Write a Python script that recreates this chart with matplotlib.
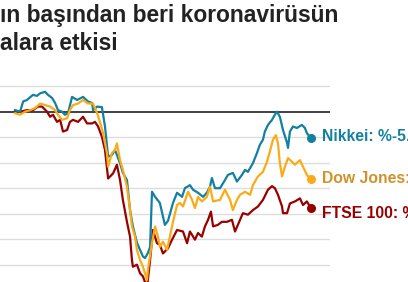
import matplotlib
matplotlib.use("Agg")
import matplotlib.pyplot as plt

plt.rcParams['font.family'] = ['Liberation Sans', 'DejaVu Sans']

# trading day index since the start of the year, % change since then
nikkei_day = [0, 2.1, 3.4, 5.0, 7.5, 9.2, 10.5, 12.6, 13.8, 15.5, 16.8, 18.0, 19.7, 20.9,
              22.2, 23.9, 26.0, 28.5, 30.6, 32.3, 32.7, 34.4, 36.4, 37.7, 39.0, 40.6,
              41.9, 44.0, 45.2, 46.9, 48.2, 49.4, 51.1, 52.4, 53.6, 54.5, 55.7, 56.6,
              57.4, 58.7, 60.7, 62.8, 64.1, 66.2, 67.9, 70.0, 71.2, 73.3, 74.6, 76.7,
              78.8, 80.4, 81.7, 82.5, 83.8, 85.9, 88.0, 89.2, 91.3, 93.0, 95.1, 96.4,
              97.6, 99.7, 101.4, 102.6, 103.9, 104.7, 106.0, 107.7, 108.9, 109.8, 111.0,
              112.3, 114.0, 114.4, 115.2, 116.5, 118.1, 120.2, 121.5, 122.3, 124.0]
nikkei_pct = [0.3, 0.0, 2.0, 2.3, 3.3, 3.1, 3.6, 3.9, 3.3, 2.7, 1.7, 0.3, 0.0, -0.6,
              -0.3, 2.9, 2.3, 2.9, 2.0, 1.7, 0.3, 1.0, 0.9, -2.9, -8.8, -8.5,
              -7.5, -10.1, -12.0, -13.4, -19.3, -22.5, -25.7, -27.1, -28.4, -28.7, -27.7, -26.5,
              -15.7, -16.7, -17.9, -22.2, -21.4, -17.9, -15.9, -16.7, -15.0, -14.4, -15.3, -15.9,
              -16.7, -15.9, -14.7, -13.0, -15.0, -15.0, -13.4, -12.4, -12.0, -13.7, -12.4, -11.4,
              -11.8, -10.1, -8.1, -6.5, -5.5, -3.9, -2.6, -1.6, -0.6, 0.0, -1.0,
              -3.6, -6.1, -7.1, -3.9, -2.9, -3.2, -2.6, -3.2, -4.2, -5.2]

dow_day = [0, 2.1, 4.2, 6.3, 8.4, 10.5, 12.6, 14.7, 16.8, 18.0, 19.7, 21.8, 23.0, 24.3,
           26.4, 28.5, 30.6, 32.7, 34.4, 35.6, 36.9, 38.5, 39.0, 40.6, 41.9, 42.7,
           44.0, 45.2, 46.9, 48.2, 49.0, 50.3, 51.1, 52.4, 53.6, 55.3, 55.7, 57.4,
           58.7, 59.9, 60.7, 62.0, 63.7, 64.9, 66.2, 67.9, 69.1, 70.4, 72.5, 74.2,
           75.4, 76.7, 78.3, 80.4, 81.7, 83.0, 85.9, 88.0, 90.1, 91.3, 93.0, 94.3,
           96.4, 98.5, 99.7, 101.8, 103.9, 105.6, 106.8, 108.1, 109.3, 110.2, 111.0,
           111.9, 113.1, 114.4, 116.0, 117.3, 119.4, 120.7, 122.3, 124.0]
dow_pct = [-0.3, -0.6, 0.0, 0.3, 0.7, 1.6, 1.3, 1.0, 0.3, -0.6, -1.6, -1.3, 0.3, 1.3,
           1.6, 2.3, 1.6, 1.6, -0.3, -2.0, -4.2, -8.1, -10.8, -8.1, -7.5, -6.2,
           -9.5, -11.4, -14.7, -19.3, -22.5, -24.5, -27.1, -29.1, -30.4, -33.0, -31.0, -25.7,
           -22.5, -24.5, -26.5, -25.5, -27.1, -24.5, -21.6, -18.3, -17.9, -18.6, -15.7, -17.3,
           -18.9, -16.7, -17.6, -16.7, -14.7, -17.6, -17.3, -15.3, -17.3, -19.3, -17.3, -16.3,
           -15.7, -16.3, -14.4, -12.7, -11.8, -9.8, -7.8, -5.5, -4.6, -6.2, -10.1,
           -12.7, -10.8, -9.1, -9.8, -10.4, -9.5, -10.8, -12.4, -13.2]

ftse_day = [0, 2.1, 5.0, 7.5, 9.6, 11.3, 13.4, 14.7, 15.9, 17.6, 18.9, 20.1, 21.8, 23.0,
            24.3, 26.4, 28.5, 30.2, 32.3, 33.5, 34.8, 36.4, 37.7, 39.0, 41.1, 42.7,
            44.0, 45.2, 46.9, 48.2, 49.0, 49.4, 51.1, 52.4, 53.6, 55.3, 56.6, 57.8,
            59.5, 60.7, 62.0, 64.1, 65.8, 67.9, 70.4, 72.1, 73.3, 75.4, 76.7, 78.3,
            79.6, 80.9, 82.1, 83.0, 85.0, 86.7, 88.8, 90.9, 92.2, 94.3, 95.5, 97.6,
            99.7, 101.8, 103.9, 106.0, 107.7, 108.9, 110.2, 111.9, 112.3, 114.0, 115.2,
            117.3, 119.4, 120.7, 122.3, 124.0]
ftse_pct = [0.2, 0.0, 0.3, 0.3, 1.0, 1.0, 0.0, -1.0, -0.6, -2.0, -1.6, -3.9, -3.6, -2.0,
            -1.6, -2.0, -1.0, -2.3, -2.3, -2.0, -2.9, -4.9, -7.5, -13.1, -12.1, -10.4,
            -13.4, -17.3, -21.6, -24.5, -29.1, -30.4, -30.0, -31.7, -32.3, -34.5, -29.1, -23.2,
            -25.8, -26.1, -27.8, -26.8, -25.1, -23.2, -23.5, -25.8, -23.5, -25.1, -23.8, -24.5,
            -22.5, -21.2, -19.6, -22.5, -22.2, -21.6, -21.6, -21.2, -23.5, -21.2, -19.9, -20.2,
            -19.3, -18.6, -17.3, -15.3, -14.6, -15.0, -16.3, -18.6, -19.9, -19.9, -18.0,
            -17.6, -17.0, -18.3, -17.6, -18.9]

title_lines = ["ın başından beri koronavirüsün", "alara etkisi"]

fig = plt.figure(figsize=(4.08, 2.82), dpi=100)
ax = fig.add_axes([0.0, 0.0, 330 / 408, 0.6996])

ax.set_xlim(-6.3, 132)
ax.set_ylim(-33.4, 5.29)
for g in range(-30, 6, 5):
    if g != 0:
        ax.axhline(g, color='#dddddd', lw=1.0, zorder=1)
ax.axhline(0, color='#333333', lw=1.3, zorder=2)

series = [
    ("FTSE 100", ftse_day, ftse_pct, '#990000', '#990000', -18.9, 214),
    ("Nikkei", nikkei_day, nikkei_pct, '#1380A1', '#1380A1', -5.2, 136.7),
    ("Dow Jones", dow_day, dow_pct, '#FAAB18', '#CF922C', -13.2, 178.5),
]
for name, d, p, col, tcol, val, ty in series:
    ax.plot(d, p, color=col, lw=1.6, zorder=3, solid_joinstyle='round')
    ax.plot(d[-1], p[-1], 'o', color=col, ms=5.5, zorder=4)
    fig.text(322 / 408, 1 - ty / 282, "{}: %{:.1f}".format(name, val), color=tcol,
             fontsize=11.3, fontweight='bold', va='center', ha='left')

for s in ax.spines.values():
    s.set_visible(False)
ax.set_xticks([])
ax.set_yticks([])

fig.text(0.0, 1 - 21.7 / 282, title_lines[0], fontsize=16.4, fontweight='bold',
         color='#222222', va='baseline', ha='left')
fig.text(0.0, 1 - 50 / 282, title_lines[1], fontsize=16.4, fontweight='bold',
         color='#222222', va='baseline', ha='left')

fig.savefig("out.png", dpi=100)
